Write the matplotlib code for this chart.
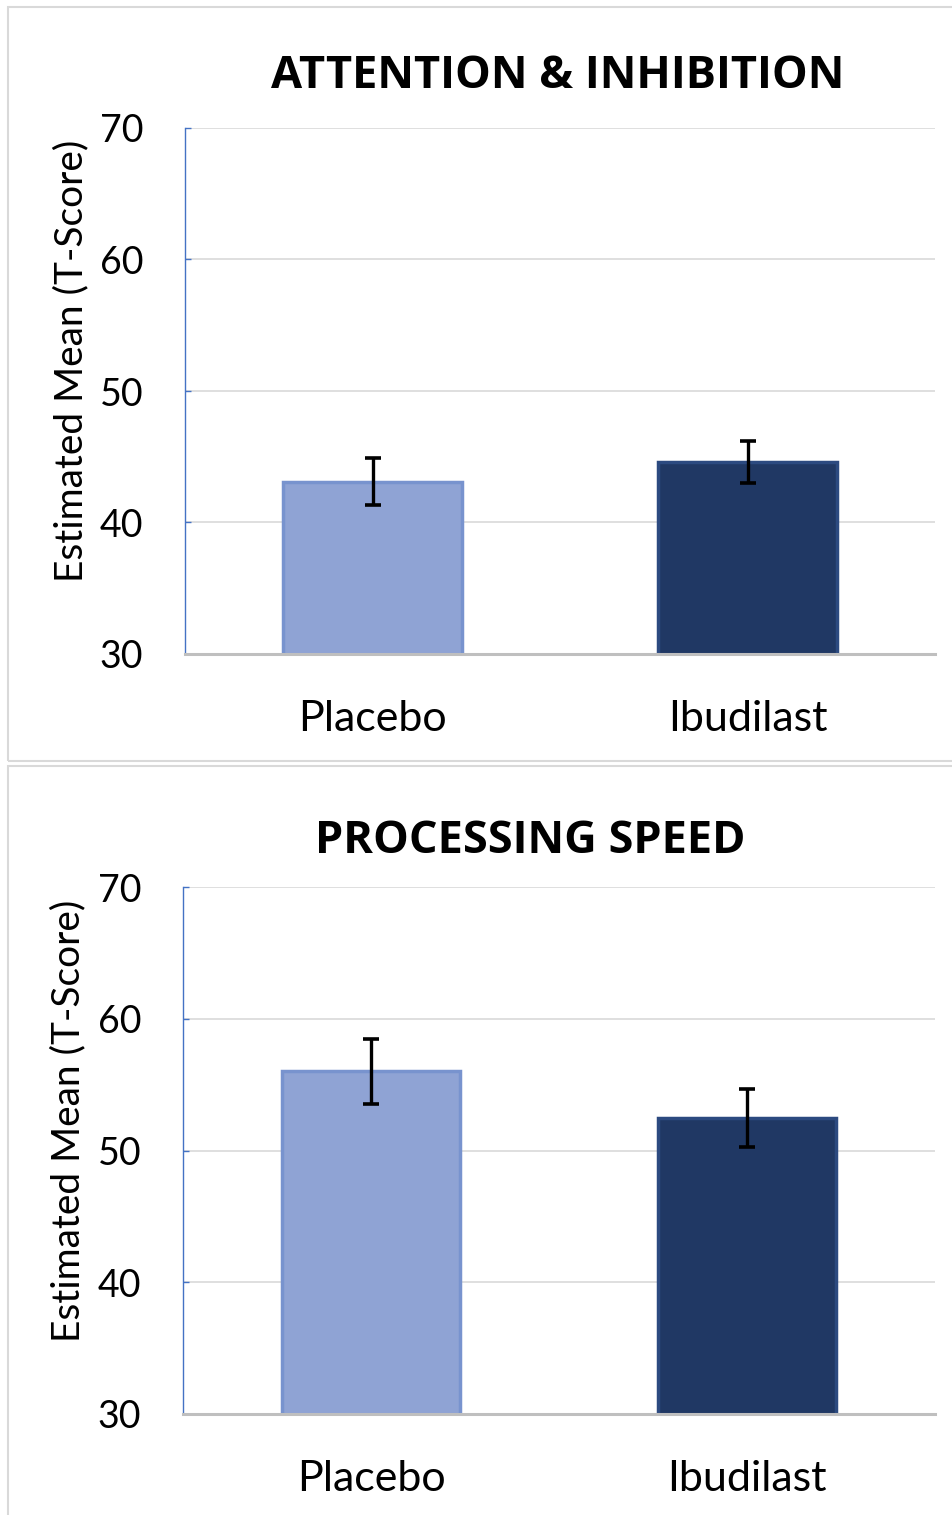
import matplotlib.pyplot as plt
from matplotlib.patches import Rectangle

# data
groups = ["Placebo", "Ibudilast"]
attention_means = [43.1, 44.6]
attention_err = [1.8, 1.6]
speed_means = [56.0, 52.5]
speed_err = [2.5, 2.2]
panel_titles = ["ATTENTION & INHIBITION", "PROCESSING SPEED"]
y_ticks = [30, 40, 50, 60, 70]

bar_colors = ["#8FA3D4", "#203864"]
edge_colors = ["#7893CE", "#2C4A80"]

plt.rcParams['font.family'] = ['Lato', 'DejaVu Sans']

fig = plt.figure(figsize=(9.52, 15.15), dpi=100)

# light gray frames around each panel
fig.patches.append(Rectangle((8 / 952, 1 - 761 / 1515), 950 / 952, 754 / 1515,
                             transform=fig.transFigure, fill=False,
                             edgecolor="#D9D9D9", linewidth=1.5))
fig.patches.append(Rectangle((8 / 952, -0.01), 950 / 952, 1 - 766 / 1515 + 0.01,
                             transform=fig.transFigure, fill=False,
                             edgecolor="#D9D9D9", linewidth=1.5))

ax_top = fig.add_axes([185 / 952, 1 - 654 / 1515, 750 / 952, 526 / 1515])
ax_bot = fig.add_axes([183 / 952, 1 - 1414 / 1515, 752 / 952, 527 / 1515])

panels = [
    (ax_top, attention_means, attention_err, panel_titles[0], 558 / 952, 1 - 88.5 / 1515),
    (ax_bot, speed_means, speed_err, panel_titles[1], 530 / 952, 1 - 853 / 1515),
]

for ax, means, errs, title, tx, ty in panels:
    x = range(len(groups))
    ax.bar(x, means, width=0.475, bottom=0, color=bar_colors,
           edgecolor=edge_colors, linewidth=2.5, zorder=3)
    ax.errorbar(x, means, yerr=errs, fmt='none', ecolor='black',
                elinewidth=2.4, capsize=6, capthick=2.6, zorder=4)

    ax.set_ylim(30, 70)
    ax.set_xlim(-0.5, 1.5)
    ax.set_yticks(y_ticks)
    ax.set_xticks(list(x))
    ax.set_xticklabels(groups)

    ax.yaxis.grid(True, color="#D9D9D9", linewidth=1.2, zorder=0)
    ax.set_axisbelow(True)

    for side in ['top', 'right']:
        ax.spines[side].set_visible(False)
    ax.spines['left'].set_color("#4472C4")
    ax.spines['left'].set_linewidth(1.0)
    ax.spines['bottom'].set_color("#BFBFBF")
    ax.spines['bottom'].set_linewidth(2.2)
    ax.spines['bottom'].set_zorder(5)

    ax.tick_params(axis='y', direction='in', length=4, width=1.0,
                   color="#4472C4", labelsize=27, pad=30)
    ax.tick_params(axis='x', length=0, labelsize=31, pad=33)

    ax.set_ylabel("Estimated Mean (T-Score)", fontsize=28)
    ax.yaxis.set_label_coords(-0.128, 0.557)

    fig.text(tx, ty, title, ha='center', va='baseline', fontsize=32.5,
             fontweight='bold', family=['Open Sans', 'DejaVu Sans'])

fig.savefig("out.png", dpi=100)
